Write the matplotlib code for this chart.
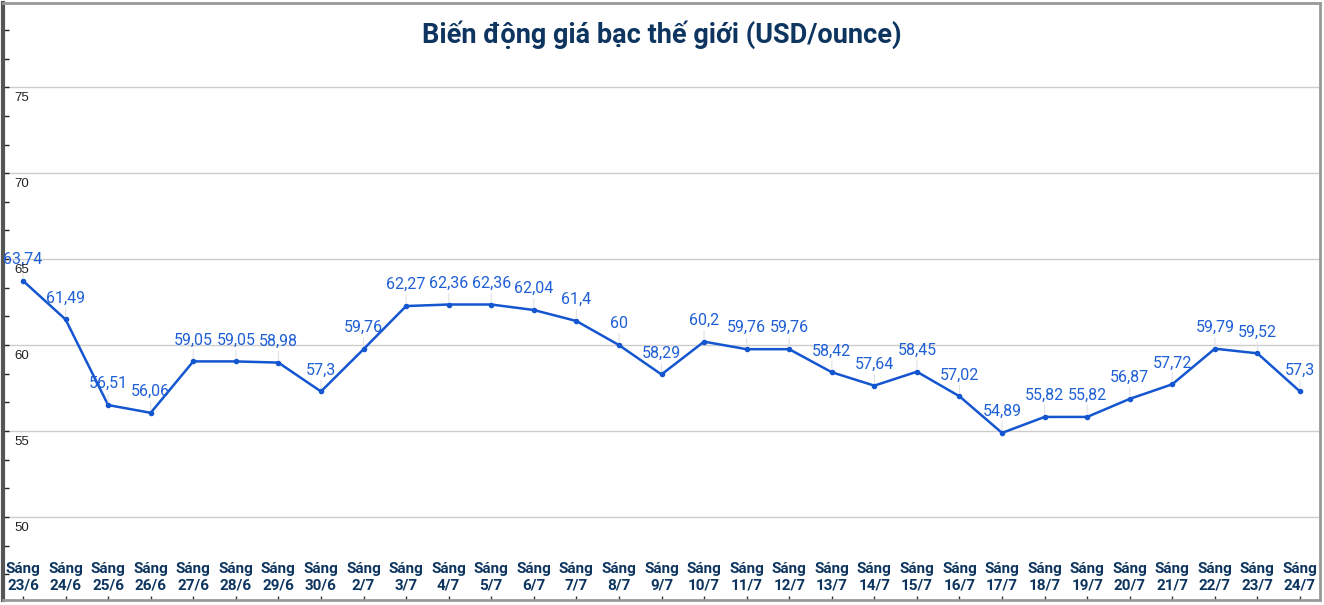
import matplotlib.pyplot as plt
from matplotlib.ticker import MultipleLocator
import matplotlib.transforms as mtransforms

plt.rcParams['font.family'] = ['Roboto', 'DejaVu Sans']

dates = ['23/6', '24/6', '25/6', '26/6', '27/6', '28/6', '29/6', '30/6',
         '2/7', '3/7', '4/7', '5/7', '6/7', '7/7', '8/7', '9/7', '10/7',
         '11/7', '12/7', '13/7', '14/7', '15/7', '16/7', '17/7', '18/7',
         '19/7', '20/7', '21/7', '22/7', '23/7', '24/7']
prices = [63.74, 61.49, 56.51, 56.06, 59.05, 59.05, 58.98, 57.3, 59.76,
          62.27, 62.36, 62.36, 62.04, 61.4, 60, 58.29, 60.2, 59.76, 59.76,
          58.42, 57.64, 58.45, 57.02, 54.89, 55.82, 55.82, 56.87, 57.72,
          59.79, 59.52, 57.3]
y_major = [50, 55, 60, 65, 70, 75]

line_color = '#1455d0'
label_color = '#1f5fd6'
navy = '#0d355f'

fig = plt.figure(figsize=(13.24, 6.05), dpi=100)
ax = fig.add_axes([3 / 1324, 5 / 605, 1317 / 1324, 597 / 605])

x_pos = list(range(len(dates)))
ax.plot(x_pos, prices, color=line_color, lw=1.8, marker='o', ms=3, zorder=3)

for i, v in enumerate(prices):
    txt = f"{v:g}".replace('.', ',')
    ax.annotate(txt, (i, v), xytext=(0, 10), textcoords='offset points',
                ha='center', va='bottom', fontsize=11.5, color=label_color,
                arrowprops=dict(arrowstyle='-', color='#e2e2e2', lw=0.8,
                                shrinkA=0, shrinkB=2))

ax.set_xlim(-0.47, len(dates) - 0.53)
ax.set_ylim(45.17, 79.9)

ax.set_yticks(y_major)
ax.yaxis.set_minor_locator(MultipleLocator(5 / 3))
ax.set_yticklabels([])
ax.grid(axis='y', which='major', color='#cccccc', lw=1)
ax.set_axisbelow(True)
ax.tick_params(axis='y', which='both', direction='in', length=4, width=1, color='#222222')

trans_y = mtransforms.blended_transform_factory(ax.transAxes, ax.transData)
for t in y_major:
    ax.annotate(str(t), (0, t), xycoords=trans_y, xytext=(11, -5),
                textcoords='offset pixels', ha='left', va='top', fontsize=9.5,
                color='#222222', family=['Liberation Sans', 'DejaVu Sans'])

ax.set_xticks(x_pos)
ax.set_xticklabels([])
ax.tick_params(axis='x', direction='in', length=3, width=1, color='#333333')
trans_x = mtransforms.blended_transform_factory(ax.transData, ax.transAxes)
for i, d in enumerate(dates):
    ax.text(i, 0.052, "Sáng", transform=trans_x, ha='center', va='center',
            fontsize=11, fontweight='bold', color=navy)
    ax.text(i, 0.0235, d, transform=trans_x, ha='center', va='center',
            fontsize=11, fontweight='bold', color=navy)

ax.text(0.5, 0.947, "Biến động giá bạc thế giới (USD/ounce)", transform=ax.transAxes,
        ha='center', va='center', fontsize=19.5, fontweight='bold', color=navy)

ax.spines['left'].set_color('#555555')
ax.spines['left'].set_linewidth(3)
for s in ['top', 'right', 'bottom']:
    ax.spines[s].set_color('#999999')
    ax.spines[s].set_linewidth(2)

fig.savefig('out.png', dpi=100)
